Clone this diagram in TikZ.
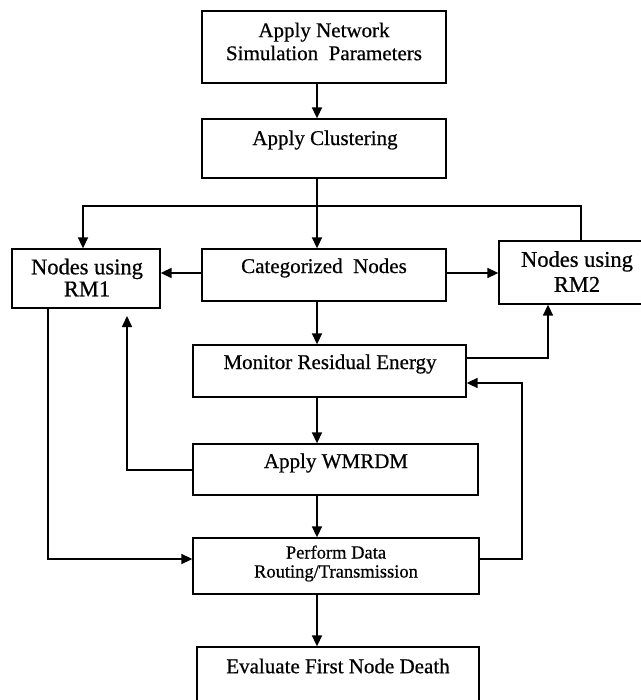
\documentclass[tikz,border=0pt]{standalone}
\usepackage{fontspec}
\setmainfont{Liberation Serif}[FakeBold=0.6]
\usetikzlibrary{arrows.meta}
\newcommand{\fntbig}{\fontsize{21}{23}\selectfont}
\newcommand{\fntrm}{\fontsize{22.5}{22}\selectfont}
\newcommand{\fntsm}{\fontsize{18.5}{19}\selectfont}
\tikzset{
  box/.style={draw, line width=1.3pt, rectangle, inner sep=0pt},
  txt/.style={align=center, inner sep=0pt, font=\fntbig},
  ln/.style={line width=1.6pt, line join=miter},
  arr/.style={ln, -{Triangle[length=11pt,width=10pt]}}
}
\begin{document}
\begin{tikzpicture}[x=1pt,y=-1pt]
\useasboundingbox (0,0) rectangle (640,700);
% boxes
\node[box, minimum width=244pt, minimum height=72pt] (b1) at (324,47) {};
\node[box, minimum width=244pt, minimum height=59pt] (b2) at (324,148.5) {};
\node[box, minimum width=244pt, minimum height=52pt] (cat) at (324,275) {};
\node[box, minimum width=148pt, minimum height=59pt] (rm1) at (86,278.5) {};
\node[box, minimum width=156pt, minimum height=63pt] (rm2) at (577,272.5) {};
\node[box, minimum width=273pt, minimum height=52pt] (mon) at (329.5,371) {};
\node[box, minimum width=285pt, minimum height=51pt] (wm) at (335.5,469.5) {};
\node[box, minimum width=286pt, minimum height=56pt] (perf) at (336,566) {};
\node[box, minimum width=282pt, minimum height=65pt] (ev) at (338,679.5) {};
% texts
\node[txt] (t1) at (324,41.5) {Apply Network\\Simulation\ \ Parameters};
\node[txt] (t2) at (325,140) {Apply Clustering};
\node[txt] (t3) at (324,268) {Categorized\ \ Nodes};
\node[txt, font=\fntrm] (t4) at (87,277.5) {Nodes using\\RM1};
\node[txt, font=\fntrm, align=center] (t5) at (577,271.5) {Nodes using\\[3pt]RM2};
\node[txt] (t6) at (330,364) {Monitor Residual Energy};
\node[txt] (t7) at (336,463) {Apply WMRDM};
\node[txt, font=\fntsm] (t8) at (336,563.5) {Perform Data\\Routing/Transmission};
\node[txt] (t9) at (338,666) {Evaluate First Node Death};
% helper coordinates
\coordinate (sx) at (317,0);
\coordinate (hy) at (0,206);
\coordinate (lx) at (83,0);
\coordinate (rx) at (581,0);
\coordinate (ay) at (0,273);
\coordinate (my) at (0,358);
\coordinate (mx) at (548,0);
\coordinate (wy) at (0,470);
\coordinate (wx) at (127,0);
\coordinate (wtip) at (127,316);
\coordinate (px) at (48,0);
\coordinate (py) at (0,559);
\coordinate (qx) at (522,0);
\coordinate (qy) at (0,383);
% connectors
\draw[arr] (b1.south -| sx) -- (b2.north -| sx);
\draw[arr] (b2.south -| sx) -- (cat.north -| sx);
\draw[arr] (rm2.north -| rx) -- (hy -| rx) -- (hy -| lx) -- (rm1.north -| lx);
\draw[arr] (cat.west |- ay) -- (rm1.east |- ay);
\draw[arr] (cat.east |- ay) -- (rm2.west |- ay);
\draw[arr] (cat.south -| sx) -- (mon.north -| sx);
\draw[arr] (mon.east |- my) -- (mx |- my) -- (rm2.south -| mx);
\draw[arr] (mon.south -| sx) -- (wm.north -| sx);
\draw[arr] (wm.west |- wy) -- (wx |- wy) -- (wtip);
\draw[arr] (wm.south -| sx) -- (perf.north -| sx);
\draw[arr] (rm1.south -| px) -- (px |- py) -- (perf.west |- py);
\draw[arr] (perf.east |- py) -- (qx |- py) -- (qx |- qy) -- (mon.east |- qy);
\draw[arr] (perf.south -| sx) -- (ev.north -| sx);
\end{tikzpicture}
\end{document}
